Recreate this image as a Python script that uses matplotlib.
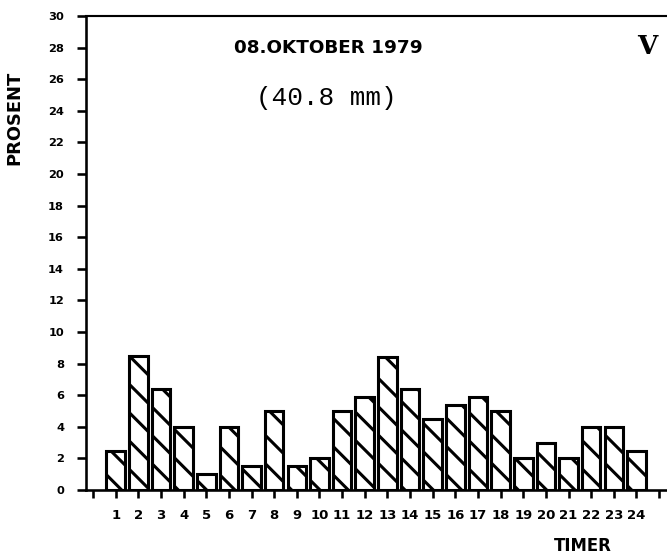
import matplotlib
matplotlib.use("Agg")
import matplotlib.pyplot as plt

# Hourly share of the day's precipitation (percent)
hours = list(range(1, 25))
percent = [2.5, 8.5, 6.4, 4.0, 1.0, 4.0, 1.5, 5.0, 1.5, 2.0, 5.0, 5.9,
           8.4, 6.4, 4.5, 5.4, 5.9, 5.0, 2.0, 3.0, 2.0, 4.0, 4.0, 2.5]
y_ticks = list(range(0, 31, 2))
x_ticks = list(range(0, 26))
x_labels = [""] + [str(h) for h in hours] + [""]

DPI = 170
W, H = 667, 559
plt.rcParams["hatch.linewidth"] = 1.3
plt.rcParams["font.family"] = ["DejaVu Sans"]

fig = plt.figure(figsize=(W / DPI, H / DPI), dpi=DPI)
ax_left, ax_top, ax_bottom = 86, 16, 490
ax = fig.add_axes([ax_left / W, 1 - ax_bottom / H, 1 - ax_left / W,
                   (ax_bottom - ax_top) / H])

ax.bar(hours, percent, width=0.82, facecolor="white", edgecolor="black",
       linewidth=1.3, hatch="\\\\", zorder=2)

ax.set_xlim(-0.31, 25.35)
ax.set_ylim(0, 30)

ax.set_yticks(y_ticks)
ax.set_yticklabels([str(v) for v in y_ticks], fontsize=4.8, fontweight="bold")
ax.set_xticks(x_ticks)
ax.set_xticklabels(x_labels, fontsize=5.6, fontweight="bold")

ax.tick_params(axis="y", direction="out", length=3.8, width=1.1, pad=5.5)
ax.tick_params(axis="x", direction="out", length=3.4, width=1.1, pad=4.5)

for side in ("left", "bottom"):
    ax.spines[side].set_linewidth(1.1)
ax.spines["top"].set_linewidth(0.9)
ax.spines["right"].set_visible(False)


def px(x, y):
    """Figure pixel position -> figure fraction."""
    return x / W, 1 - y / H


fig.text(*px(14, 118), "PROSENT", rotation=90, ha="center", va="center",
         fontsize=7.6, fontweight="bold")
fig.text(*px(583, 546), "TIMER", ha="center", va="center",
         fontsize=7.0, fontweight="bold")

fig.text(*px(328, 48), "08.OKTOBER 1979", ha="center", va="center",
         fontsize=7.8, fontweight="bold")
fig.text(*px(326, 98), "(40.8 mm)", ha="center", va="center",
         fontsize=11, family=["Liberation Mono"])
fig.text(*px(647, 47), "V", ha="center", va="center",
         fontsize=11, fontweight="bold", family=["DejaVu Serif"])

fig.savefig("out.png", dpi=DPI)
